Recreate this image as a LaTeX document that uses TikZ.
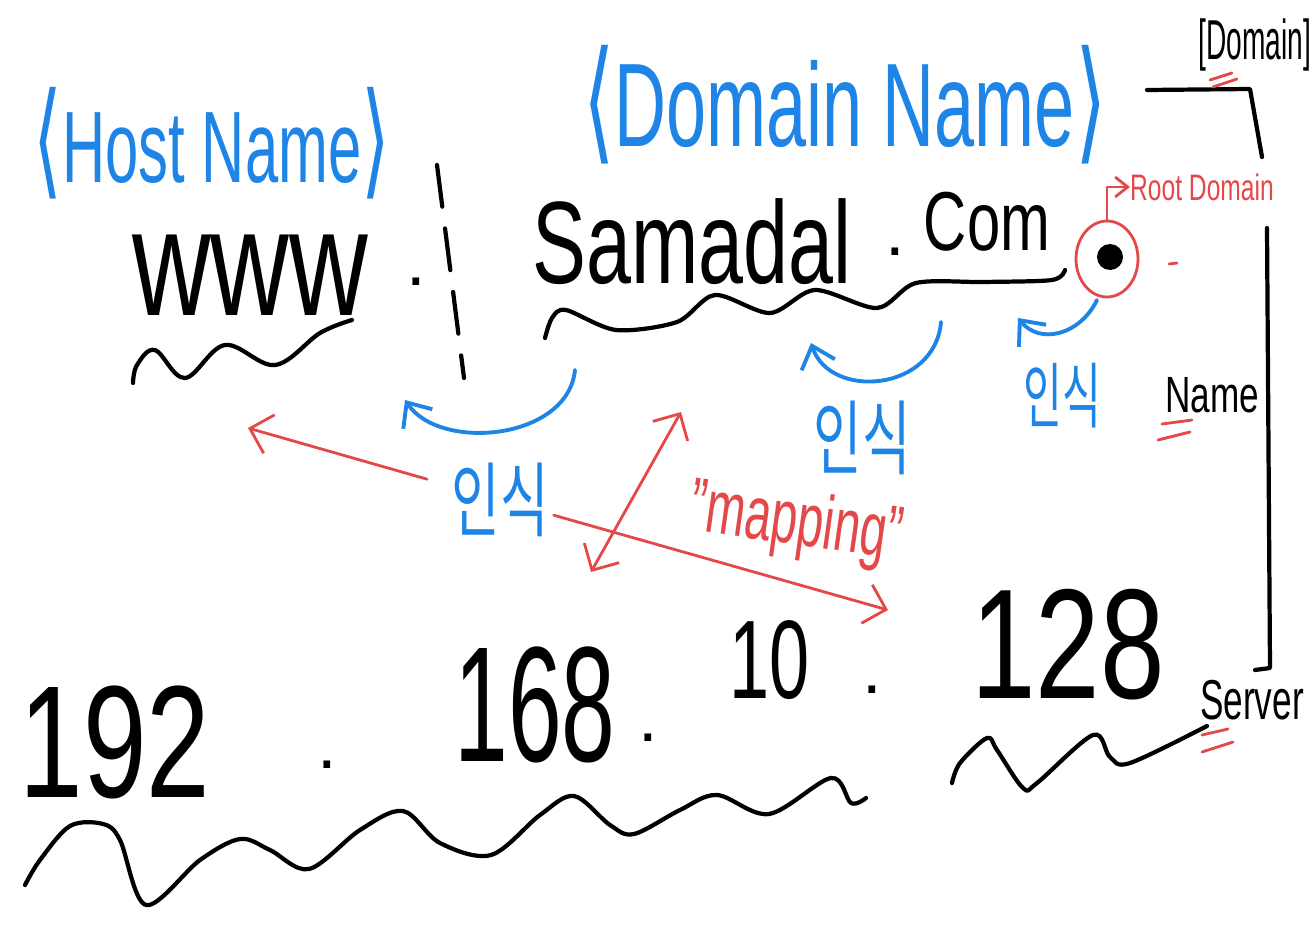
\documentclass[tikz,border=0pt]{standalone}
\usepackage{fontspec}
\setmainfont{Liberation Sans}
\newfontfamily\kofont{Noto Sans CJK KR}
\newfontfamily\angfont{DejaVu Sans}
\usetikzlibrary{arrows.meta, shapes.geometric}

\definecolor{penblue}{RGB}{30,132,230}
\definecolor{penred}{RGB}{228,72,72}
\newcommand{\hand}[2]{\scalebox{1}[#1]{#2}}
\newcommand{\fs}[1]{\fontsize{#1}{#1}\selectfont}

\begin{document}
\begin{tikzpicture}[x=0.02cm, y=-0.02cm,
  ink/.style={line width=2.4pt, line cap=round, line join=round},
  blueink/.style={draw=penblue, line width=2.2pt, line cap=round, line join=round},
  redink/.style={draw=penred, line width=1.6pt, line cap=round, line join=round},
  bluehead/.style={-{Straight Barb[length=4mm, width=7mm]}},
  redtip/.tip={Straight Barb[length=4mm, width=8mm]},
  word/.style={inner sep=0pt},
]
  \useasboundingbox (0,0) rectangle (1316,930);

  % headings
  \node[word, penblue, font=\fs{34}] (hostname) at (212,143)
    {\hand{1.7}{{\angfont\fs{42}⟨}Host Name{\angfont\fs{42}⟩}}};
  \node[word, penblue, font=\fs{41}] (domname)  at (845,105)
    {\hand{1.65}{{\angfont\fs{46}⟨}Domain Name{\angfont\fs{46}⟩}}};
  \node[word, font=\fs{16}] (domtag) at (1255,45) {\hand{2}{[Domain]}};

  % host + domain
  \node[word, font=\fs{62}] (www)     at (250,275) {\hand{1.4}{www}};
  \node[word, font=\fs{40}] (dota)    at (416,282) {.};
  \node[word, font=\fs{46}] (samadal) at (692,242) {\hand{1.45}{Samadal}};
  \node[word, font=\fs{40}] (dotb)    at (895,252) {.};
  \node[word, font=\fs{34}] (com)     at (987,222) {\hand{1.4}{Com}};

  \node[ellipse, draw=penred, line width=1.6pt, minimum width=1.24cm,
        minimum height=1.52cm] (rootring) at (1107,259) {};
  \node[circle, fill=black, minimum size=0.52cm, inner sep=0pt] (rootdot) at (1110,257) {};
  \node[word, penred, font=\fs{14}] (rootname) at (1202,187) {\hand{1.5}{Root Domain}};
  \node[word, font=\fs{20}] (namelbl)   at (1212,395) {\hand{1.45}{Name}};
  \node[word, font=\fs{20}] (serverlbl) at (1252,700) {\hand{1.6}{Server}};

  % ip address
  \node[word, font=\fs{65}] (ipa)  at (115,742) {\hand{1.4}{192}};
  \node[word, font=\fs{40}] (dotc) at (327,765) {.};
  \node[word, font=\fs{55}] (ipb)  at (535,705) {\hand{1.7}{168}};
  \node[word, font=\fs{40}] (dotd) at (648,738) {.};
  \node[word, font=\fs{41}] (ipc)  at (770,660) {\hand{1.55}{10}};
  \node[word, font=\fs{40}] (dote) at (872,690) {.};
  \node[word, font=\fs{66}] (ipd)  at (1068,645) {\hand{1.35}{128}};

  % recognition labels
  \node[word, penblue, font=\kofont\fs{30}] (insa) at (500,500) {\hand{1.55}{인식}};
  \node[word, penblue, font=\kofont\fs{30}] (insb) at (862,438) {\hand{1.55}{인식}};
  \node[word, penblue, font=\kofont\fs{24}] (insc) at (1062,396) {\hand{1.7}{인식}};
  \node[word, penred, font=\fs{27}, rotate=-8] (maplbl) at (796,525) {\hand{1.6}{"mapping"}};

  % underlines
  \draw[ink] plot[smooth, tension=0.6] coordinates {(133,383) (137,365) (155,350)
    (185,378) (225,345) (275,365) (320,333) (352,320)};
  \draw[ink] plot[smooth, tension=0.5] coordinates {(545,338) (552,318) (566,310)
    (616,330) (677,322) (715,295) (770,313) (815,290) (877,308) (916,283)
    (984,282) (1052,280) (1065,270)};
  \draw[ink] plot[smooth, tension=0.55] coordinates {(25,885) (40,860) (70,826)
    (103,824) (120,840) (146,905) (200,860) (240,839) (270,850) (309,869)
    (360,830) (403,811) (440,843) (491,855) (540,815) (574,796) (610,825)
    (634,834) (680,810) (717,795) (769,814) (831,778) (851,803) (866,798)};
  \draw[ink] plot[smooth, tension=0.55] coordinates {(952,783) (960,763) (987,738)
    (997,750) (1023,788) (1037,783) (1093,735) (1110,757) (1130,763) (1207,726)};

  % host / domain split
  \draw[ink, dash pattern=on 0.84cm off 0.44cm] (437,165) -- (464,378);

  % domain bracket
  \draw[ink] (1147,90) -- (1250,89) -- (1262,157);
  \draw[ink] (1267,228) -- (1270,668) -- (1255,670);

  % red marks
  \draw[redink] (1210,80) -- (1232,73)  (1213,87) -- (1237,79);
  \draw[redink] (1162,424) -- (1192,420)  (1158,440) -- (1190,432);
  \draw[redink] (1202,735) -- (1228,729)  (1202,752) -- (1233,742);
  \draw[redink] (1169,264) -- (1177,263);
  \draw[redink, -{Straight Barb[length=2.5mm, width=4mm]}] (rootring.north) |- (rootname.west);

  % blue arrows
  \draw[blueink, bluehead] (575,370) .. controls (568,440) and (440,452) .. (405,400);
  \draw[blueink, bluehead] (941,322) .. controls (935,392) and (830,400) .. (811,343);
  \draw[blueink, bluehead] (1097,300) .. controls (1080,335) and (1040,345) .. (1018,318);

  % mapping arrows
  \coordinate (mapl) at (248,428);
  \coordinate (mapr) at (888,610);
  \coordinate (mapu) at (681,412);
  \coordinate (mapd) at (591,572);
  \draw[redink, -redtip, shorten <=0.5cm] (insa) -- (mapl);
  \draw[redink, -redtip, shorten <=0.1cm] (insa) -- (mapr);
  \draw[redink, redtip-redtip] (mapd) -- (mapu);
\end{tikzpicture}
\end{document}
